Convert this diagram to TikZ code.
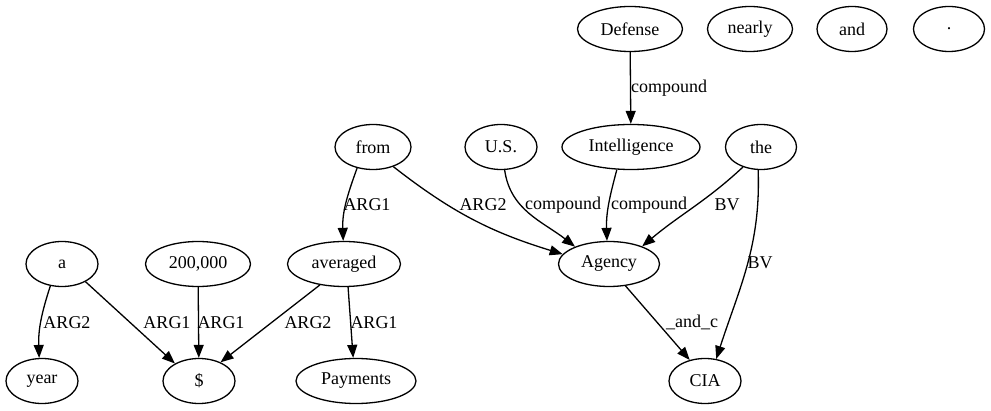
\documentclass[tikz,border=0pt]{standalone}
\usepackage{fontspec}
\setmainfont{Liberation Serif}
\usetikzlibrary{shapes.geometric,arrows.meta}
\begin{document}
\begin{tikzpicture}[x=1pt,y=1pt,
  every node/.style={font=\fontsize{18}{20}\selectfont},
  nd/.style={ellipse,draw,line width=1.3pt,inner sep=0pt,minimum height=45pt},
  lbl/.style={inner sep=0pt,anchor=center},
  e/.style={line width=1.3pt,-{Triangle[length=13pt,width=10pt]}}]
\useasboundingbox (0,0) rectangle (991,-411);
% nodes
\node[nd,minimum width=105pt] (Defense) at (630,-29) {Defense};
\node[nd,minimum width=85pt] (nearly) at (750,-29) {nearly};
\node[nd,minimum width=70pt] (and) at (852,-29) {and};
\node[nd,minimum width=71pt] (dot) at (949,-29) {.};
\node[nd,minimum width=76pt] (from) at (373,-147) {from};
\node[nd,minimum width=72pt] (US) at (501,-147) {U.S.};
\node[nd,minimum width=138pt] (Intel) at (631,-147) {Intelligence};
\node[nd,minimum width=71pt] (the) at (761,-147) {the};
\node[nd,minimum width=72pt] (a) at (62,-264) {a};
\node[nd,minimum width=105pt] (num) at (198,-264) {200,000};
\node[nd,minimum width=113pt] (averaged) at (344,-264) {averaged};
\node[nd,minimum width=101pt] (Agency) at (609,-264) {Agency};
\node[nd,minimum width=72pt] (year) at (42,-381) {year};
\node[nd,minimum width=72pt] (dollar) at (199,-381) {\$};
\node[nd,minimum width=120pt] (Payments) at (356,-381) {Payments};
\node[nd,minimum width=72pt] (CIA) at (705,-381) {CIA};
% edges
\draw[e] (Defense) -- (Intel);
\draw[e] (from.-127) to[out=-110,in=92] (averaged.92);
\draw[e] (from.-44) to[out=-38,in=163] (Agency.168);
\draw[e] (US.-81) to[out=-82,in=142] (Agency.153);
\draw[e] (Intel.-122) to[out=-105,in=92] (Agency.95);
\draw[e] (the.-132) to[out=-137,in=40] (Agency.28);
\draw[e] (the.-97) to[out=-88,in=72] (CIA.63);
\draw[e] (a.-118) to[out=-108,in=92] (year.97);
\draw[e] (a.-37) -- (dollar.144);
\draw[e] (num) -- (dollar);
\draw[e] (averaged.-139) -- (dollar.41);
\draw[e] (averaged.-80) -- (Payments.97);
\draw[e] (Agency.-53) -- (CIA.126);
% labels
\node[lbl] (l1) at (669,-88) {compound};
\node[lbl] (l2) at (367,-205) {ARG1};
\node[lbl] (l3) at (483,-205) {ARG2};
\node[lbl] (l4) at (563,-205) {compound};
\node[lbl] (l5) at (649,-205) {compound};
\node[lbl] (l6) at (727,-205) {BV};
\node[lbl] (l7) at (760,-263) {BV};
\node[lbl] (l8) at (67,-323) {ARG2};
\node[lbl] (l9) at (167,-323) {ARG1};
\node[lbl] (l10) at (221,-323) {ARG1};
\node[lbl] (l11) at (308,-323) {ARG2};
\node[lbl] (l12) at (374,-323) {ARG1};
\node[lbl] (l13) at (692,-322) {\_and\_c};
\end{tikzpicture}
\end{document}
